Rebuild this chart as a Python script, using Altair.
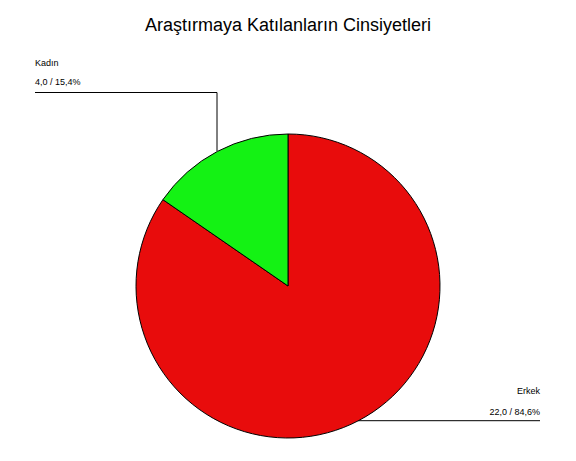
import altair as alt
import pandas as pd

# Data
categories = ["Erkek", "Kadın"]
counts = [22.0, 4.0]
colors = ["#E80C0C", "#14F214"]

total = sum(counts)
def fmt(v):
    return f"{v:.1f}".replace(".", ",")
pcts = [c / total * 100 for c in counts]
labels = [f"{fmt(c)} / {fmt(p)}%" for c, p in zip(counts, pcts)]

pie_df = pd.DataFrame({"cat": categories, "n": counts, "ord": [0, 1]})

# Layout (pixel positions of annotations, in plot coordinates)
W, H, TOP = 560, 405, 40
CX, CY, R = 280, 238, 152
label_pos = {
    "Kadın": dict(x=27, y1=18, y2=37, align="left"),
    "Erkek": dict(x=532, y1=346, y2=367, align="right"),
}
leader_segments = [
    # x, y, x2, y2
    (27, 44.5, 209, 44.5),
    (209, 44.5, 209, 103),
    (350, 372.7, 532, 372.7),
]

text_rows = []
for c, lab in zip(categories, labels):
    p = label_pos[c]
    text_rows.append(dict(t=c, x=p["x"], y=p["y1"], align=p["align"]))
    text_rows.append(dict(t=lab, x=p["x"], y=p["y2"], align=p["align"]))
text_df = pd.DataFrame(text_rows)
seg_df = pd.DataFrame(leader_segments, columns=["x", "y", "x2", "y2"])

pie = alt.Chart(pie_df).mark_arc(outerRadius=R, stroke="black", strokeWidth=1).encode(
    theta=alt.Theta("n:Q", stack=True),
    order=alt.Order("ord:Q"),
    color=alt.Color("cat:N", scale=alt.Scale(domain=categories, range=colors), legend=None),
    x=alt.value(CX),
    y=alt.value(CY),
)

lines = alt.Chart(seg_df).mark_rule(color="black", strokeWidth=1).encode(
    x=alt.X("x:Q", scale=None),
    y=alt.Y("y:Q", scale=None),
    x2="x2:Q",
    y2="y2:Q",
)

txt_left = alt.Chart(text_df[text_df["align"] == "left"]).mark_text(
    align="left", baseline="alphabetic", font="Liberation Sans", fontSize=9, color="black"
).encode(x=alt.X("x:Q", scale=None), y=alt.Y("y:Q", scale=None), text="t:N")

txt_right = alt.Chart(text_df[text_df["align"] == "right"]).mark_text(
    align="right", baseline="alphabetic", font="Liberation Sans", fontSize=9, color="black"
).encode(x=alt.X("x:Q", scale=None), y=alt.Y("y:Q", scale=None), text="t:N")

chart = alt.layer(pie, lines, txt_left, txt_right).properties(
    width=W,
    height=H,
    title=alt.TitleParams(
        "Araştırmaya Katılanların Cinsiyetleri",
        anchor="middle",
        font="Liberation Sans",
        fontSize=18,
        fontWeight="normal",
        color="black",
        offset=13,
    ),
    padding={"top": TOP, "left": 0, "right": 0, "bottom": 0},
    autosize=alt.AutoSizeParams(type="none"),
).configure_view(stroke=None)

chart.save("out.html", embed_options={"renderer": "svg", "actions": False})
